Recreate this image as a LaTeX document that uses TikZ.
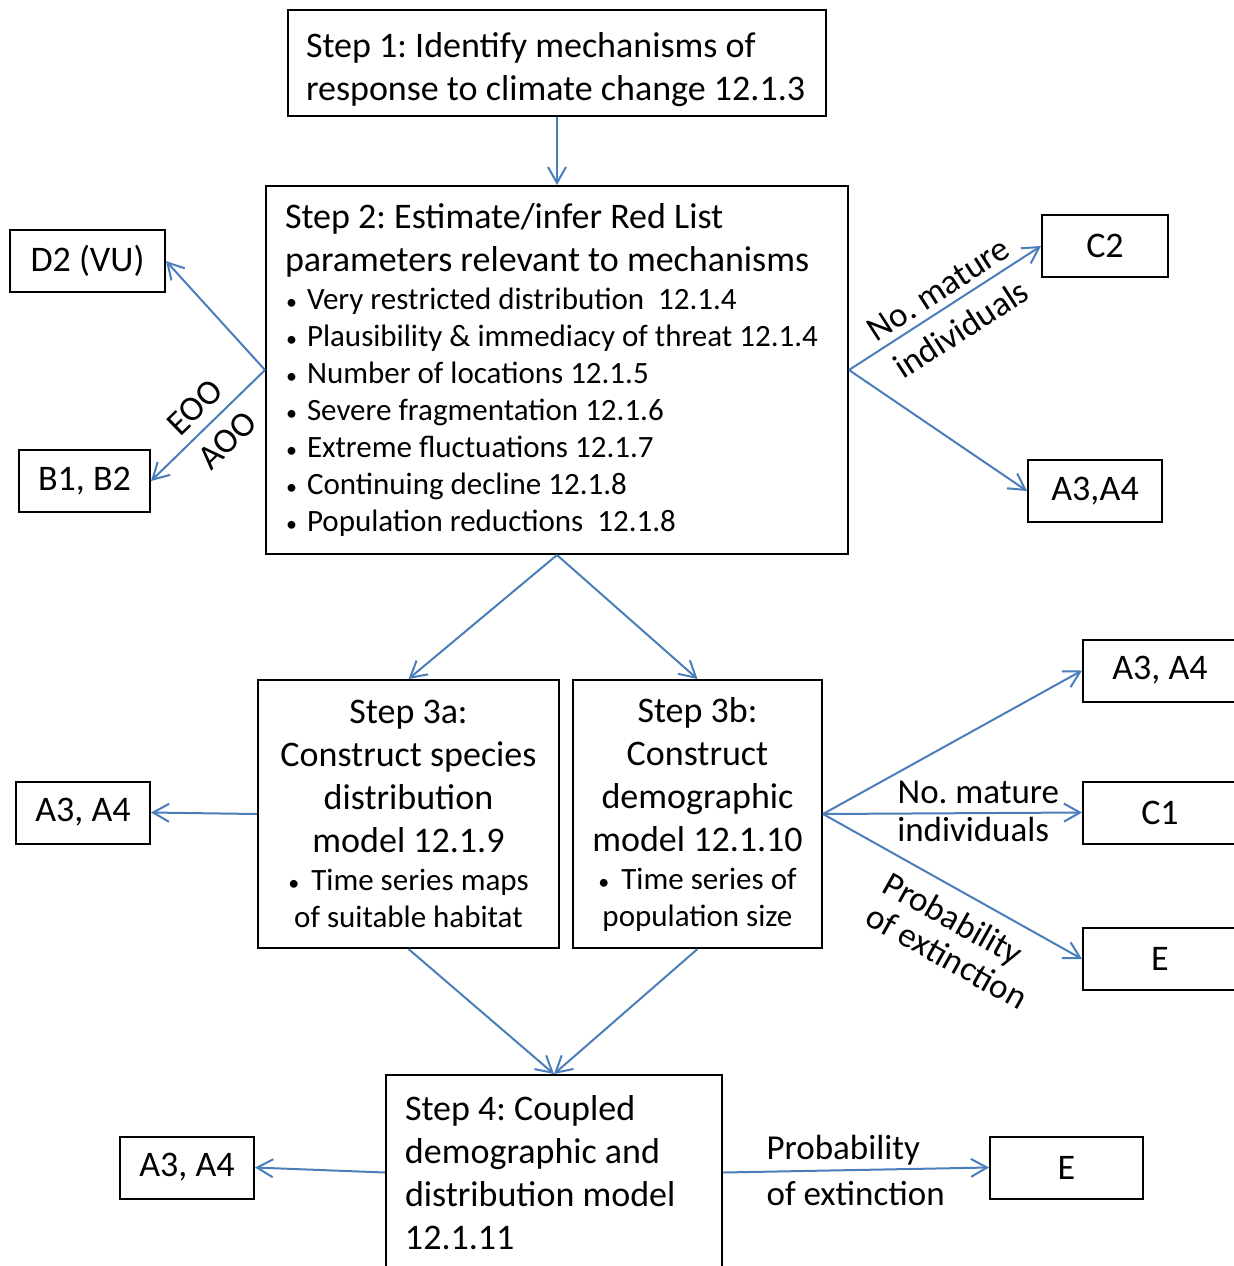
\documentclass[tikz,border=0pt]{standalone}
\usepackage{fontspec}
\setmainfont{Carlito}
\usepackage{tikz}
\usetikzlibrary{arrows.meta}
\frenchspacing

\definecolor{arrowblue}{RGB}{74,126,187}
\newcommand{\bigfont}{\fontsize{18}{21.5}\selectfont}
\newcommand{\bulfont}{\fontsize{15.5}{18.5}\selectfont}
\newcommand{\lblfont}{\fontsize{17.5}{17.5}\selectfont}
\newcommand{\bdot}{{\fontsize{11}{11}\selectfont\textbullet}}
\newcommand{\bul}{\makebox[11pt][l]{\hspace{0.5pt}\bdot}}

\begin{document}
\begin{tikzpicture}[x=0.5pt,y=-0.5pt,->,>={Straight Barb[length=8pt,width=9pt]},
                    semithick]
\tikzstyle{stepbox}=[draw=black,line width=1pt,inner sep=0pt]
\tikzstyle{critbox}=[draw=black,line width=1pt,inner sep=0pt,minimum height=31pt]
\tikzstyle{lbl}=[font=\lblfont,inner sep=0pt,text=black]
\tikzset{font=\bigfont, every edge/.style={draw=arrowblue,line width=1pt}}

\useasboundingbox (0,0) rectangle (1234,1266);

        \node[stepbox, text width=269pt, minimum height=53pt, align=flush left]     (s1) at (557,63)
              {\leftskip=9pt \rule{0pt}{18.7pt}Step 1: Identify mechanisms of\\response to climate change 12.1.3\par};

        \node[stepbox, text width=291pt, minimum height=184pt, align=flush left]  (s2) at (557,370)
              {\leftskip=9.5pt Step 2: Estimate/infer Red List\\parameters relevant to mechanisms\par
               \bulfont\vspace{0.5pt}
               \bul Very restricted distribution\ \ 12.1.4\\
               \bul Plausibility \& immediacy of threat 12.1.4\\
               \bul Number of locations 12.1.5\\
               \bul Severe fragmentation 12.1.6\\
               \bul Extreme fluctuations 12.1.7\\
               \bul Continuing decline 12.1.8\\
               \bul Population reductions\ \ 12.1.8\par\vspace{-1pt}};

        \node[critbox, minimum width=77.5pt]   (d2)  at (87.5,261)   {D2 (VU)};
        \node[critbox, minimum width=65.5pt]   (b12) at (84.5,481)   {B1, B2};
        \node[critbox, minimum width=63pt]     (c2)  at (1105,246)   {C2};
        \node[critbox, minimum width=67pt]     (a34a) at (1095,491)  {A3,A4};

        \node[stepbox, text width=150.5pt, minimum height=134pt, align=flush center] (s3a) at (408.5,814)
              {Step 3a:\\Construct species\\distribution\\model 12.1.9\par
               \bulfont\vspace{0.5pt}\bdot\hspace{6pt}Time series maps\\of suitable habitat\par};
        \node[stepbox, text width=124.5pt, minimum height=134pt, align=flush center] (s3b) at (697.5,814)
              {Step 3b:\\Construct\\demographic\\model 12.1.10\par
               \bulfont\vspace{0.5pt}\bdot\hspace{6pt}Time series of\\population size\par};

        \node[critbox, minimum width=67pt]     (a34b) at (83,812.5)   {A3, A4};
        \node[critbox, minimum width=77pt]     (a34c) at (1160,670.5) {A3, A4};
        \node[critbox, minimum width=77pt]     (c1)   at (1160,812.5) {C1};
        \node[critbox, minimum width=77pt]     (e1)   at (1160,959)   {E};

        \node[stepbox, text width=168pt, minimum height=97.5pt, align=flush left]  (s4) at (554,1172.5)
              {\leftskip=9.5pt Step 4: Coupled\\demographic and\\distribution model\\12.1.11\par};

        \node[critbox, minimum width=67pt]     (a34d) at (187,1167.5)  {A3, A4};
        \node[critbox, minimum width=76.5pt]   (e2)   at (1066.5,1167.5) {E};

        \path[->]
        (s1)      edge                    (s2)
        (s2.west) edge node[lbl, sloped, pos=.48, above=4.9pt] {EOO}
                       node[lbl, sloped, pos=.48, below=5.9pt] {AOO}          (b12.east)
        (s2.west) edge                    (d2.east)
        (s2.east) edge node[lbl, sloped, pos=.52, above=3.4pt] {No. mature}
                       node[lbl, sloped, pos=.51, below=6.4pt] {individuals}  (c2.west)
        (s2.east) edge                    (a34a.west)
        (s2.south) edge                   (s3a.north)
        (s2.south) edge                   (s3b.north)
        (s3a.west) edge                   (a34b.east)
        (s3b.east) edge                   (a34c.west)
        (s3b.east) edge node[lbl, pos=.6, above=4.4pt] {No. mature}
                        node[lbl, pos=.58, below=1.4pt] {individuals}        (c1.west)
        (s3b.east) edge node[lbl, sloped, pos=.555, below=7pt] {Probability}
                        node[lbl, sloped, pos=.6, below=25.3pt] {of extinction} (e1.west)
        (s3a.south) edge                  (s4.north)
        (s3b.south) edge                  (s4.north)
        (s4.west)  edge                   (a34d.east)
        (s4.east)  edge node[lbl, pos=.16, anchor=south west, yshift=2.7pt] {Probability}
                        node[lbl, pos=.16, anchor=north west, yshift=-4.1pt] {of extinction} (e2.west)
        ; %end path

\end{tikzpicture}
\end{document}
